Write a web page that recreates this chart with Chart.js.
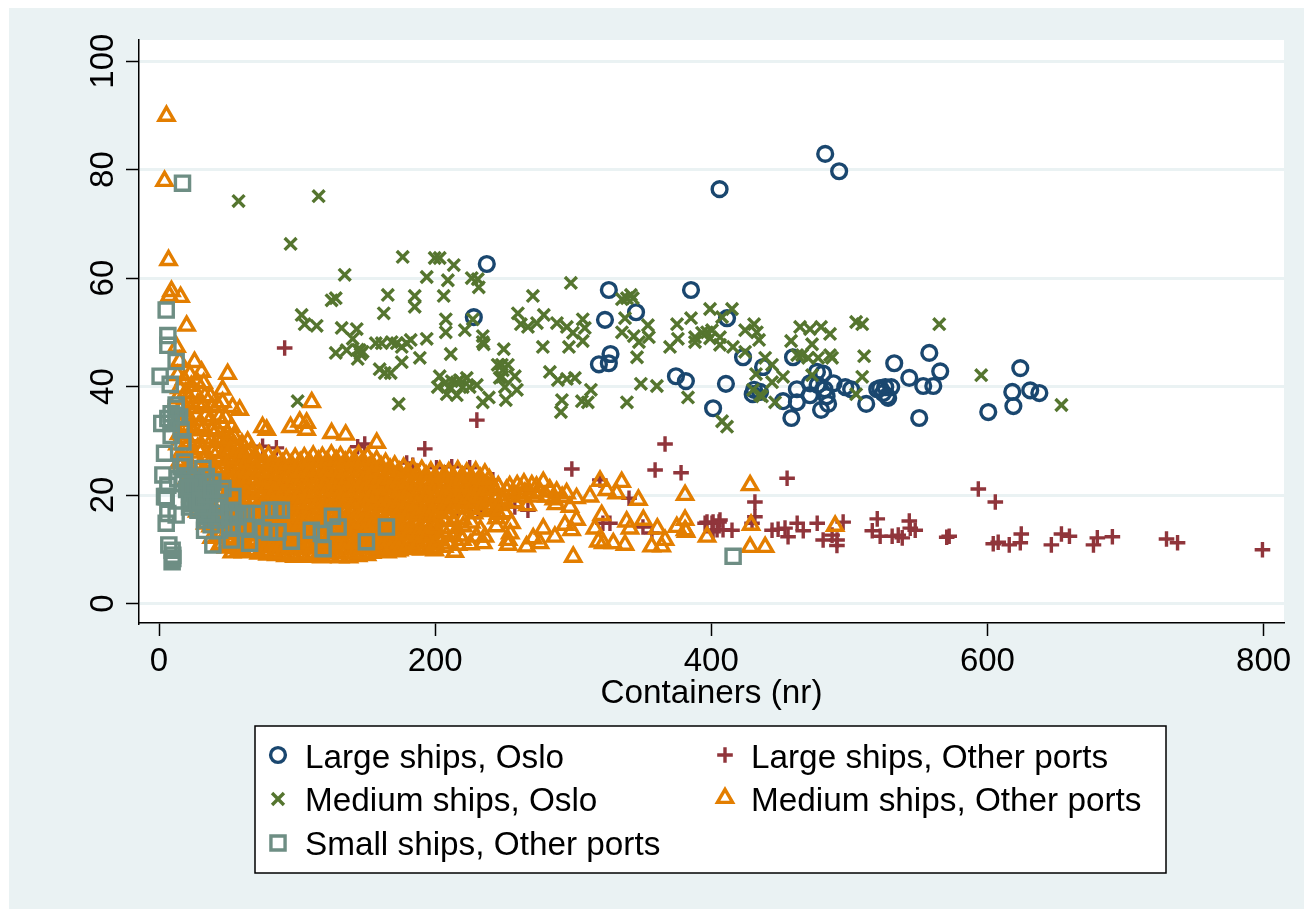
<!DOCTYPE html>
<html>
<head>
<meta charset="utf-8">
<title>Containers</title>
<script src="https://cdn.jsdelivr.net/npm/chart.js@4/dist/chart.umd.js"></script>
<style>
  html, body { margin: 0; padding: 0; background: #fff; }
  canvas { display: block; }
</style>
</head>
<body>
<canvas id="shipChart" width="1304" height="909"></canvas>
<script>
const xTicks = [0, 200, 400, 600, 800];
const yTicks = [0, 20, 40, 60, 80, 100];
const xTitle = "Containers (nr)";

// values as [containers, y]
const largeOslo = [
  [237.4,62.6],[228,52.8],[406,76.4],[482.5,82.9],[492.6,79.7],[325.8,57.8],[385.3,57.8],[345.5,53.7],[323,52.3],[411.4,52.6],
  [327,46],[318.6,44.1],[325.8,44.3],[374.4,41.9],[381.6,41],[410.6,40.5],[401.3,36],[423,45.4],[437.5,43.6],[435.3,39],
  [431,39.4],[430,38.6],[452,37.3],[459.2,45.4],[458,34.2],[462,39.5],[462,37.1],[471.5,40.6],[471.5,38.4],[476.5,42.7],
  [481,42.4],[477,40.3],[482,39.5],[483.5,38.2],[484.6,36.8],[479.5,35.7],[488.5,40.6],[497,39.9],[501.3,39.5],[512.2,36.8],
  [522.3,39.7],[526,39.9],[530.3,39.9],[520.2,39.5],[524.5,38.8],[528.1,37.9],[527.4,38.2],[532.5,44.3],[557.9,46.2],[543.4,41.6],
  [565.8,42.8],[553.5,40.1],[560.8,40.1],[550.6,34.2],[600.6,35.3],[623.8,43.4],[618,39],[618.8,36.4],[631,39.3],[637.6,38.8]
];
const largeOther = [
  [91,47.1],[230.2,33.8],[366.5,29.4],[359.3,24.6],[378.1,24.1],[299,24.8],[454.9,23.1],[431.6,18.7],[431.6,16],[326.6,14.8],
  [321.5,14.8],[350.5,14.1],[357,13],[396.9,15],[401.3,15],[406.3,15.4],[404.2,13.6],[408.5,13.6],[395.5,14.8],[400.5,14.8],
  [405.6,15],[401.3,13.2],[415,13.5],[429.5,14.8],[444,13.5],[448.4,13.7],[453.4,13.9],[455.6,12.3],[462.2,14.8],[466.6,13.4],
  [476.7,14.8],[481,11.7],[487.5,12.6],[491.1,11.7],[495.5,15],[491,10.7],[520.2,15.6],[516.6,13.4],[522.3,12.4],[531,12.4],
  [535.4,12.6],[538.3,12.1],[543.4,15.2],[544.1,13.9],[547.7,13.5],[572.3,12.4],[570.5,12.2],[605.7,18.7],[593.4,21.1],[604.2,11],
  [607.8,11.3],[615.8,10.8],[624.5,12.8],[623.8,11.2],[646.3,10.8],[653.6,12.8],[659.4,12.4],[676.8,10.8],[679.6,12.1],[690.5,12.3],
  [729.7,11.9],[737.7,11.2],[799.2,9.9],[75,29],[85,28.7],[143.9,28.9],[149,29.4],[192.5,28.5],[179.4,25.9],[183.8,25.5],
  [201,25],[212,25.2],[225,25],[238,21.8],[215.7,16.7],[231,16.9],[204.8,17.2],[164.9,12.1],[241.8,22.8],[246.8,17.8],
  [257.7,17.8],[267.2,17.2],[319.3,22.8],[340.4,19.4]
];
const mediumOslo = [
  [57.6,74.2],[115.6,75.1],[95.3,66.3],[134.5,60.6],[176.5,63.9],[199.7,63.7],[203.3,63.7],[213.5,62.4],[193.9,60.2],[209.2,59.6],
  [226.5,60],[230.9,59.8],[231.6,58.3],[165.7,56.9],[185.2,56.7],[185.2,54.7],[206.2,56.7],[125,55.9],[128,56.3],[162.8,53.5],
  [103.3,53.2],[105.5,51.5],[114.2,51.2],[207.7,52.4],[227.3,52.4],[221.5,50.4],[207.7,50],[234.5,49.3],[235.2,47.8],[132.3,50.8],
  [143.2,50.6],[140.3,48.8],[193.9,48.8],[182.3,48.6],[179.4,48],[168.5,48.2],[172.2,48],[175.8,47.3],[157,48],[161.3,48],
  [211.3,46],[188.9,45.3],[128,46.2],[135.9,46.7],[145.4,46.7],[147.5,46.4],[143.9,45.1],[146,46],[144,46.8],[175.8,44.5],
  [159.8,43.2],[163.5,42.5],[167.8,42.5],[245.3,44],[246.8,41.6],[203.3,41.9],[201.9,39.9],[207,40.6],[212,41],[210.6,39.9],
  [215.7,40.8],[217.9,41.2],[222.9,41.6],[220,39.9],[230.2,40.3],[225,39.9],[208.4,38.6],[215.7,38.4],[238.9,38],[234.5,37.1],
  [173.6,36.8],[100.4,37.3],[298.3,59.1],[270.8,56.7],[341.8,56.9],[338.9,56.3],[335.3,56.1],[343.2,56.3],[259.9,53.5],[262.1,51.5],
  [267.2,51],[273.7,51.7],[278.7,53.2],[288.2,51.7],[295.4,51],[299.8,49.9],[306.9,52.4],[308.4,50.8],[306.9,48.4],[296.9,47.3],
  [278,47.3],[249.7,46.9],[234.5,48.2],[248.3,44],[252.7,44],[249,43],[257.7,41.9],[248.3,41.8],[250.5,39.9],[259.2,39.4],
  [251.2,37.5],[283.1,42.7],[288.9,41.2],[295.4,41.4],[301.2,41.6],[291.8,37.5],[291.1,35.3],[306.3,37.3],[312.8,39.4],[310.6,37.1],
  [338.9,37.1],[349,40.5],[360.6,40.1],[346.2,45.4],[335.3,50],[337.5,52.6],[343.9,49.3],[347.6,48.2],[354.1,51.3],[354.8,49.1],
  [375.2,51.5],[385.3,52.6],[375.8,48.8],[370.1,47.3],[399.1,54.3],[415,54.3],[407.8,52.8],[388.2,49.1],[388.2,48.2],[393.3,49.9],
  [396.9,50],[400.5,50.4],[399.1,48.9],[406.3,49.1],[406.3,47.7],[415.7,47.3],[424.5,46.4],[424.5,50.4],[431,51.5],[433,50],
  [434.6,48.6],[439,45.3],[444,44],[432.4,42.3],[444,40.8],[430.2,39.4],[435.3,38.4],[446.2,37.1],[383.1,38],[407.8,33.6],
  [411.4,32.6],[464.3,51],[471.5,50.6],[479.5,51],[486,49.7],[504.9,51.9],[509.3,51.5],[565.1,51.5],[457.8,48.4],[473,47.8],
  [462.2,45.8],[465.8,45.8],[470.1,45.3],[477.4,45.3],[486,45.8],[487.5,45.3],[510.7,45.6],[452,41.8],[473,42.1],[509.3,41.8],
  [504.9,38.6],[436.7,38.2],[595.5,42.1],[653.6,36.6]
];
const mediumOther = [
  [5.4,89.9],[4,77.9],[6.9,63.3],[9,57.6],[7.6,56.7],[15.6,56.5],[20,51.2],[12.7,47.3],[14.9,44.7],[25.7,44.5],
  [30.8,42.7],[49.7,42.3],[46,39.4],[46,37.1],[53.3,36.2],[58.4,35.7],[52.6,32.5],[64.2,29.8],[75,32.5],[78,32],
  [95.3,32.5],[101.9,33.5],[106.9,33.3],[106.9,32],[110.6,37.1],[125,31.4],[135.2,31.1],[157.7,29.6],
  [13.5,42.1],[14.8,39.7],[13.2,37.8],[15.1,35.9],[13.9,33.6],[14.5,31.2],[13.4,29.3],[15.2,27.4],[14.1,25.8],
  [18.2,41.3],[19.4,38.9],[17.8,36.7],[18.9,34.8],[19.1,32.5],[18,30.6],[19.6,28.5],[17.9,26.3],[18.7,24.4],[19.2,22.6],
  [22.3,42.2],[23.4,40.1],[21.9,37.9],[23.1,36],[22.6,33.8],[23.8,31.9],[22,29.7],[23.3,27.8],[22.5,25.6],[23.9,23.7],[22.2,21.5],[23.2,19.8],
  [27.6,40.8],[26.8,38.7],[28.1,36.9],[27,34.6],[28.4,32.7],[26.9,30.8],[27.9,28.6],[26.7,26.9],[28.2,24.8],[27.3,22.9],[28.5,20.7],[26.6,18.8],[27.7,16.9],
  [32.4,40.6],[33.2,38.2],[31.8,36.4],[33.6,34.5],[32.1,32.3],[33,30.4],[31.6,28.5],[33.4,26.7],[32.3,24.7],[33.7,22.6],[31.9,20.9],[33.1,18.7],[32.2,16.8],[33.5,14.7],
  [37.3,38.1],[38.6,36.2],[37,33.9],[38.2,31.8],[37.5,29.8],[38.9,27.9],[37.1,26],[38.4,24.1],[37.7,22.2],[38.8,20.3],[37.2,18.1],[38.5,16.4],[37.4,14.2],[38.1,12.1],
  [42.4,36.5],[43.7,34.3],[42.1,32.1],[43.2,30.2],[42.7,28.1],[43.9,26.4],[42.2,24.3],[43.4,22.5],[42.9,20.4],[44,18.3],[42.3,16.5],[43.5,14.3],[42.6,12.6],[43.8,10.7],
  [48.3,34.2],[49.4,31.4],[47.8,29.6],[49.1,27.7],[48.6,25.8],[49.8,23.6],[47.9,21.9],[49.2,19.8],[48.4,17.9],[49.6,15.8],[48.1,14],[49.3,12.1],[48.7,10.3],[52.8,9.4],
  [54.2,30.8],[55.3,28.9],[53.8,27.1],[55.1,25.2],[54.5,23.3],[55.7,21.4],[53.9,19.6],[55.2,17.5],[54.1,15.7],[55.6,13.8],[54.3,12],[55.4,10.2],
  [60.1,29.4],[61.2,27.5],[59.6,25.7],[61,23.9],[60.4,22],[61.6,20.2],[59.8,18.3],[61.3,16.4],[60.2,14.6],[61.5,12.7],[59.9,11],[61.1,9.4],
  [66.4,28],[67.6,26.3],[65.9,24.4],[67.2,22.5],[66.7,20.7],[67.9,18.8],[66,16.9],[67.4,15.1],[66.3,13.2],[67.7,11.4],[66.1,9.7],
  [72.8,27.6],[73.9,25.6],[72.2,23.8],[73.6,21.9],[72.9,20.1],[74.1,18],[72.4,16.2],[73.7,14.4],[72.6,12.5],[74,10.6],[72.3,9.2],
  [79.2,27.2],[80.3,25.3],[78.7,23.4],[80,21.6],[79.4,19.7],[80.6,17.8],[78.9,15.9],[80.2,14],[79.1,12.2],[80.5,10.4],[78.8,9],
  [85.7,27],[86.9,25],[85.2,23.1],[86.5,21.3],[85.9,19.3],[87.1,17.5],[85.3,15.6],[86.6,13.7],[85.6,11.9],[87,10.1],[85.1,8.9],
  [92.1,26.6],[93.4,24.7],[91.6,22.8],[93,21],[92.4,19],[93.6,17.2],[91.8,15.3],[93.1,13.4],[92,11.6],[93.5,9.9],[91.7,8.7],
  [98.6,26.8],[99.8,24.9],[98.1,23],[99.5,21.2],[98.9,19.2],[100.1,17.4],[98.3,15.5],[99.6,13.6],[98.5,11.8],[99.9,10],[98.2,8.6],
  [105.2,26.9],[106.4,25.1],[104.7,23.2],[106,21.4],[105.4,19.4],[106.7,17.6],[104.9,15.7],[106.2,13.8],[105.1,12],[106.5,10.2],[104.8,8.7],
  [111.7,27.2],[112.9,25.2],[111.2,23.4],[112.5,21.5],[111.9,19.6],[113.2,17.7],[111.4,15.8],[112.7,14],[111.6,12.1],[113,10.3],[111.3,8.6],
  [118.3,27],[119.5,25],[117.8,23.2],[119.1,21.3],[118.5,19.4],[119.8,17.5],[118,15.6],[119.3,13.8],[118.2,11.9],[119.6,10.1],[117.9,8.5],
  [124.8,27.4],[126,25.4],[124.3,23.5],[125.6,21.6],[125,19.7],[126.3,17.8],[124.5,15.9],[125.8,14.1],[124.7,12.2],[126.1,10.4],[124.4,8.6],
  [131.4,27.1],[132.6,25.2],[130.9,23.3],[132.2,21.4],[131.6,19.5],[132.9,17.6],[131.1,15.7],[132.4,13.9],[131.3,12],[132.7,10.2],[131,8.5],
  [137.9,26.8],[139.1,25],[137.4,23.1],[138.7,21.2],[138.1,19.3],[139.4,17.4],[137.6,15.5],[138.9,13.7],[137.8,11.8],[139.2,10],[137.5,8.5],
  [144.5,27.3],[145.7,25.3],[144,23.4],[145.3,21.5],[144.7,19.6],[146,17.7],[144.2,15.8],[145.5,14],[144.4,12.1],[145.8,10.3],[144.1,8.7],
  [151,27],[152.2,25.1],[150.5,23.2],[151.8,21.3],[151.2,19.4],[152.5,17.5],[150.7,15.6],[152,13.8],[150.9,11.9],[152.3,10.1],[150.6,8.9],
  [157.6,26.4],[158.8,24.6],[157.1,22.7],[158.4,20.8],[157.8,18.9],[159.1,17],[157.3,15.1],[158.6,13.3],[157.5,11.4],[158.9,9.7],
  [164.1,25.9],[165.3,24.1],[163.6,22.2],[164.9,20.3],[164.3,18.4],[165.6,16.5],[163.8,14.6],[165.1,12.8],[164,10.9],[165.4,9.4],
  [170.7,25.4],[171.9,23.6],[170.2,21.7],[171.5,19.8],[170.9,17.9],[172.2,16],[170.4,14.1],[171.7,12.3],[170.6,10.5],[172,9.6],
  [177.2,25],[178.4,23.2],[176.7,21.3],[178,19.4],[177.4,17.5],[178.7,15.6],[176.9,13.7],[178.2,11.8],[177.1,10.1],
  [183.8,24.8],[185,22.9],[183.3,21],[184.6,19.1],[184,17.2],[185.3,15.3],[183.5,13.4],[184.8,11.5],[183.7,10],
  [190.3,24.6],[191.5,22.7],[189.8,20.8],[191.1,18.9],[190.5,17],[191.8,15.1],[190,13.2],[191.3,11.3],[190.2,9.9],
  [196.9,24.3],[198.1,22.4],[196.4,20.5],[197.7,18.6],[197.1,16.7],[198.4,14.8],[196.6,12.9],[197.9,11.1],[199.7,9.8],
  [203.4,24.4],[204.6,22.5],[202.9,20.6],[204.2,18.7],[203.6,16.8],[205.8,15.4],[200.9,12.3],[204.1,11.6],
  [209.9,24.2],[211.1,22.2],[209.4,20.3],[210.7,18.4],[210.1,16.6],[211.4,13.9],[209.6,11],[214.2,9.5],
  [216.4,24.5],[217.6,22.6],[215.9,20.7],[217.2,18.8],[216.6,10.8],[220.3,14.2],[218.1,12.5],
  [222.9,24.1],[224.1,22.3],[222.4,20.4],[223.7,18.5],[228.2,16.6],[230,12.3],[225.4,10.9],
  [229.4,24.3],[230.6,22.4],[228.9,20.5],[230.2,18.6],[234.8,11.1],[236,12.3],
  [236,23.9],[237.2,22],[235.5,20.1],[236.8,18.2],[241.9,21.1],[243.1,19.3],[244.4,15.7],[244.4,14.2],[240.5,17.6],
  [259.4,21.8],[264.3,22.1],[251.7,20.9],[278.3,22.4],[273.4,21.5],[288,20.6],[295.2,20.3],[302.4,19.4],[280.7,19.7],[273.4,19.7],
  [256.5,20.3],[262.6,19.7],[297.6,17.8],[268.6,20.3],[319.4,22.6],[324.2,20.9],[312.1,19.7],[335.1,22.4],[331.5,20.3],[347.2,19.1],
  [381,20],[320.6,16.3],[315.7,13.8],[302.4,15.4],[294,14.5],[298.8,13.5],[278.3,13.8],[286.7,12.3],[271,12],[266.2,10.5],
  [275.9,11.1],[252.9,10.8],[252.9,11.7],[255.3,14.8],[318.2,11.4],[321.8,11.1],[329,11.1],[337.5,10.8],[338.7,15.1],[341.1,13.8],
  [350.8,15.4],[360.9,13.8],[366.5,11.7],[364.1,10.5],[356.8,10.5],[375,14.1],[381,15.4],[381,13.5],[396.9,12.3],[300,8.6],
  [428.1,21.8],[381.7,13.2],[428.8,14.5],[428.1,10.4],[439,10.4],[489.7,14.3],[248.6,18.8],[266.9,18.1],[287.5,18.3],[254.4,12.9],
  [250,19],[254,21.6],[258,18.6],[262,21],[265,20.4],[270,21.8],[276,20.6],[283,21],[286,19.2],[292,19.6],[250.5,16.8]
];
// the solid orange blob, estimated column by column: [containers, [y, y, ...]]
const mediumOtherBlob = [
  [45.5,[33.2,30.1,27,24.9,22.9,20.8,18.7,16.6,14.9,13,11]],
  [51.5,[30.4,28.2,26.4,24.5,22.3,20.4,18.6,16.5,14.6,12.8,11]],
  [57.8,[28.6,26.7,24.7,22.8,20.9,19,17,15.1,13.2,11.3,9.8]],
  [63.5,[27.9,26,24.1,22.1,20.2,18.3,16.4,14.5,12.6,10.7]],
  [70,[26.9,25,23,21.2,19.3,17.4,15.5,13.6,11.7,9.8]],
  [76.4,[26.2,24.3,22.5,20.6,18.7,16.8,14.9,13.1,11.2,9.5]],
  [82.9,[26.1,24.1,22.2,20.3,18.4,16.5,14.7,12.8,10.9,9.3]],
  [89.4,[25.8,23.9,22,20.1,18.2,16.4,14.5,12.6,10.8,9.2]],
  [95.8,[25.7,23.8,21.9,20,18.1,16.3,14.4,12.5,10.7,9.1]],
  [102.3,[26,24.1,22.1,20.2,18.3,16.4,14.6,12.7,10.9,9.1]],
  [108.9,[26.1,24.2,22.3,20.4,18.5,16.6,14.7,12.8,11,9.2]],
  [115.4,[26.3,24.4,22.4,20.5,18.6,16.7,14.8,12.9,11,9.1]],
  [121.8,[26.2,24.3,22.5,20.6,18.7,16.8,14.9,13,11.2,9.2]],
  [128.3,[26.4,24.4,22.6,20.7,18.8,16.9,15,13.2,11.3,9.3]],
  [134.9,[26.1,24.2,22.3,20.4,18.5,16.6,14.8,12.9,11,9.2]],
  [141.4,[26.3,24.3,22.5,20.6,18.7,16.8,14.9,13,11.1,9.2]],
  [147.9,[26.2,24.3,22.4,20.5,18.6,16.7,14.8,12.9,11.1,9.4]],
  [154.3,[25.7,23.8,21.9,20,18.1,16.2,14.3,12.5,10.6,9.3]],
  [160.8,[25.3,23.4,21.5,19.6,17.7,15.8,13.9,12,10.2]],
  [167.4,[24.8,22.9,21,19.1,17.2,15.3,13.4,11.6,9.9]],
  [173.9,[24.3,22.4,20.5,18.6,16.7,14.8,12.9,11,9.8]],
  [180.4,[24.1,22.2,20.3,18.4,16.5,14.6,12.7,10.8]],
  [186.8,[23.8,21.9,20,18.1,16.2,14.3,12.4,10.5]],
  [193.4,[23.6,21.7,19.8,17.9,16,14.1,12.2,10.4]],
  [200,[23.3,21.4,19.6,17.7,15.9,13.9,10.9]],
  [206.6,[23.6,21.5,19.6,17.6,13.2,10.4]],
  [213.1,[23.3,21.3,19.4,17.5,15.2,12.4]],
  [219.7,[23.4,21.6,19.6,17.7,15.6,11.7]],
  [226.2,[23.2,21.3,19.4,17.6,14.9]],
  [232.8,[23.1,21.2,19.5,17.4,13.6]],
  [239.2,[22.9,20.9,19,17]],
  [245.7,[21.6,19.9,18.1,16.5]]
];
const smallOther = [
  [17,77.5],[5.2,54.1],[6.4,49.4],[6.4,47.6],[12.4,44.6],[0.8,41.9],[8.1,40.4],[12.4,36.6],[12.4,36],[8.8,35],
  [6.4,34.1],[2,33.2],[12.4,34.7],[14.9,34.4],[8.8,33.2],[16,32],[8.8,31],[17.3,29.8],[4,27.7],[18.5,26.1],
  [16,25.2],[2.8,23.7],[31.8,24.9],[13.6,23],[20.9,23.4],[27,22.8],[34.2,23.4],[6.4,21.8],[17.3,22.1],[24.5,22.1],
  [31.8,22.1],[39,22.4],[5.2,19.7],[4,19.7],[46.3,21.2],[53.5,19.7],[22.1,19],[28.2,20.3],[36.6,20.6],[43.9,20.3],
  [22.1,17.8],[29.4,18.8],[36.6,19],[43.9,18.4],[12.4,16.3],[6.4,16.6],[5.2,14.8],[37.8,14.5],[33,13.5],[43.9,13.5],
  [51.1,13.9],[57.2,13.9],[63.2,14.1],[70.4,16.6],[54.7,16.6],[63.2,16.6],[33,15.4],[41.4,15.4],[80.1,17.2],[85,17.2],
  [88.6,17.2],[75.3,13.5],[80.1,13.2],[86.2,13.2],[39,10.8],[52.3,11.7],[65.6,11.1],[110.3,13.5],[95.8,11.5],[117.6,12.9],
  [125.6,16.1],[129.7,14.1],[118.8,10.1],[150.2,11.4],[164.7,14.1],[7.1,10.8],[9.5,9.8],[10,8.9],[10,8.3],[9.5,7.7],
  [415.8,8.7],[28.2,17.2],[36.6,16.6],[43.9,16.6],[51.1,16],[34.2,16.6],[40.2,17.8],[31.8,17.8],[51.1,17.2],[57.2,16],
  [20,21],[24,20.5],[26,19.5],[30,21],[33,19.5],[26,21.5],[22,21.4],[28,18.5],[24,18.5],[30,19],[34,20],[38,21]
];

const seriesNames = ["Large ships, Oslo", "Large ships, Other ports", "Medium ships, Oslo", "Medium ships, Other ports", "Small ships, Other ports"];
const seriesColors = ["#1a476f", "#90353b", "#55752f", "#e37e00", "#6e8e84"];
const seriesMarkers = [
  { pointStyle: "circle", radius: 7.4 },
  { pointStyle: "cross", radius: 7.8 },
  { pointStyle: "crossRot", radius: 8.4 },
  { pointStyle: "triangle", radius: 8.7 },
  { pointStyle: "rect", radius: 10 }
];
const seriesData = [
  largeOslo,
  largeOther,
  mediumOslo,
  mediumOther.concat(mediumOtherBlob.flatMap(([x, ys]) => ys.map((y) => [x, y]))),
  smallOther
];

const fontName = '"Liberation Sans", Arial, sans-serif';
const markerStroke = 3.4;

const stataFrame = {
  id: "stataFrame",
  beforeDraw(chart) {
    const { ctx, chartArea: a } = chart;
    ctx.save();
    ctx.fillStyle = "#ffffff";
    ctx.fillRect(0, 0, chart.width, chart.height);
    ctx.fillStyle = "#eaf2f3";
    ctx.fillRect(9, 8, chart.width - 9, chart.height - 8);
    ctx.fillStyle = "#ffffff";
    ctx.fillRect(a.left, a.top, a.right - a.left, a.bottom - a.top);
    ctx.restore();
  },
  afterDraw(chart) {
    const ctx = chart.ctx;
    ctx.save();
    // y tick labels, turned like the original
    ctx.fillStyle = "#000";
    ctx.font = "33px " + fontName;
    ctx.textAlign = "center";
    ctx.textBaseline = "alphabetic";
    yTicks.forEach((t) => {
      ctx.save();
      ctx.translate(113, chart.scales.y.getPixelForValue(t));
      ctx.rotate(-Math.PI / 2);
      ctx.fillText(String(t), 0, 0);
      ctx.restore();
    });

    // legend box
    ctx.fillStyle = "#fff";
    ctx.fillRect(255, 726, 911, 147);
    ctx.strokeStyle = "#000";
    ctx.lineWidth = 1.5;
    ctx.strokeRect(255, 726, 911, 147);

    // marker x, marker y, text x, text baseline
    const slots = [[278, 755, 305, 768], [725, 755, 751, 768], [278, 799, 305, 811], [725, 798, 751, 811], [278, 843, 305, 854.5]];
    ctx.font = "33.3px " + fontName;
    ctx.textAlign = "left";
    seriesNames.forEach((name, i) => {
      const [mx, my, tx, ty] = slots[i];
      ctx.strokeStyle = seriesColors[i];
      ctx.fillStyle = "rgba(0,0,0,0)";
      ctx.lineWidth = markerStroke;
      Chart.helpers.drawPoint(ctx, { pointStyle: seriesMarkers[i].pointStyle, radius: seriesMarkers[i].radius, borderWidth: markerStroke, rotation: 0 }, mx, my);
      ctx.fillStyle = "#000";
      ctx.fillText(name, tx, ty);
    });
    ctx.restore();
  }
};

new Chart(document.getElementById("shipChart"), {
  type: "scatter",
  plugins: [stataFrame],
  data: {
    datasets: seriesData.map((rows, i) => ({
      label: seriesNames[i],
      data: rows.map(([x, y]) => ({ x, y })),
      showLine: false,
      order: seriesData.length - i,
      pointStyle: seriesMarkers[i].pointStyle,
      pointRadius: seriesMarkers[i].radius,
      pointBorderWidth: markerStroke,
      pointBorderColor: seriesColors[i],
      pointBackgroundColor: "rgba(0,0,0,0)"
    }))
  },
  options: {
    responsive: false,
    animation: false,
    events: [],
    layout: { padding: { left: 0, right: 20, top: 40, bottom: 0 } },
    plugins: { legend: { display: false }, tooltip: { enabled: false }, title: { display: false } },
    scales: {
      x: {
        type: "linear",
        min: -14.5,
        max: 814.8,
        afterBuildTicks: (s) => { s.ticks = xTicks.map((value) => ({ value })); },
        afterFit: (s) => { s.height = 286; },
        grid: { drawOnChartArea: false, tickColor: "#000", tickWidth: 1.5, tickLength: 13 },
        border: { color: "#000", width: 1.5 },
        ticks: { color: "#000", font: { family: fontName, size: 33 }, padding: 6, maxRotation: 0, autoSkip: false },
        title: { display: true, text: xTitle, color: "#000", font: { family: fontName, size: 33.3 }, padding: { top: 0, bottom: 195 } }
      },
      y: {
        type: "linear",
        min: -3.6,
        max: 103.9,
        afterBuildTicks: (s) => { s.ticks = yTicks.map((value) => ({ value })); },
        afterFit: (s) => { s.width = 139; },
        grid: { color: "#eaf2f3", lineWidth: 3, tickColor: "#000", tickWidth: 1.5, tickLength: 13 },
        border: { color: "#000", width: 1.5 },
        ticks: { display: false }
      }
    }
  }
});
</script>
</body>
</html>
